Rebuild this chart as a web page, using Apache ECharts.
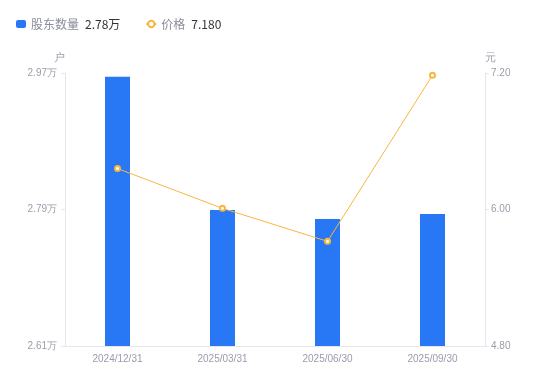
<!DOCTYPE html>
<html><head><meta charset="utf-8">
<script src="https://cdn.jsdelivr.net/npm/echarts@6/dist/echarts.min.js"></script>
<style>html,body{margin:0;padding:0;background:#fff}#c{width:550px;height:381px}</style>
</head><body><div id="c"></div>
<script>
const categories = ['2024/12/31', '2025/03/31', '2025/06/30', '2025/09/30'];
const holders = [29650, 27895, 27775, 27840];
const prices = [6.36, 6.01, 5.72, 7.18];
const leftTicks = [26100, 27900, 29700];
const rightTicks = [4.80, 6.00, 7.20];
const legendValues = {'股东数量': '2.78万', '价格': '7.180'};

const chart = echarts.init(document.getElementById('c'));
const labelColor = '#9a9cab';
const lineColor = '#e6e7eb';
chart.setOption({
  animation: false,
  legend: {
    left: 11, top: 13, itemGap: 25, itemWidth: 10, itemHeight: 8,
    data: [{name: '股东数量', icon: 'roundRect'}, {name: '价格'}],
    formatter: n => '{n|' + n + '}{v|' + legendValues[n] + '}',
    textStyle: {rich: {
      n: {color: '#8a8c99', fontSize: 12, fontFamily: 'Noto Sans CJK SC', padding: [0, 6, 0, 0]},
      v: {color: '#333', fontSize: 12, fontFamily: 'Noto Sans CJK SC'}
    }}
  },
  grid: {left: 65, right: 65, top: 73, bottom: 35},
  xAxis: {
    type: 'category', data: categories,
    axisLine: {lineStyle: {color: lineColor}},
    axisTick: {show: false},
    axisLabel: {color: labelColor, fontSize: 10, margin: 8}
  },
  yAxis: [{
    type: 'value', min: 26100, max: 29700, interval: 1800,
    name: '户', nameGap: 10, nameTextStyle: {color: labelColor, fontSize: 11, align: 'right'},
    axisLine: {show: true, lineStyle: {color: lineColor}},
    axisTick: {show: true, length: 4, lineStyle: {color: lineColor}},
    splitLine: {show: false},
    axisLabel: {color: labelColor, fontSize: 10, margin: 8, formatter: v => (v / 10000).toFixed(2) + '万'}
  }, {
    type: 'value', min: 4.8, max: 7.2, interval: 1.2,
    name: '元', nameGap: 10, nameTextStyle: {color: labelColor, fontSize: 11, align: 'left'},
    axisLine: {show: true, lineStyle: {color: lineColor}},
    axisTick: {show: true, length: 4, lineStyle: {color: lineColor}},
    splitLine: {show: false},
    axisLabel: {color: labelColor, fontSize: 10, margin: 6, formatter: v => v.toFixed(2)}
  }],
  series: [{
    name: '股东数量', type: 'bar', data: holders, yAxisIndex: 0, barWidth: 25,
    itemStyle: {color: '#2878f5'}
  }, {
    name: '价格', type: 'line', data: prices, yAxisIndex: 1,
    symbol: 'emptyCircle', symbolSize: 5,
    lineStyle: {color: '#f7b73e', width: 1},
    itemStyle: {color: '#f7b73e', borderWidth: 1.5}
  }]
});
</script></body></html>
